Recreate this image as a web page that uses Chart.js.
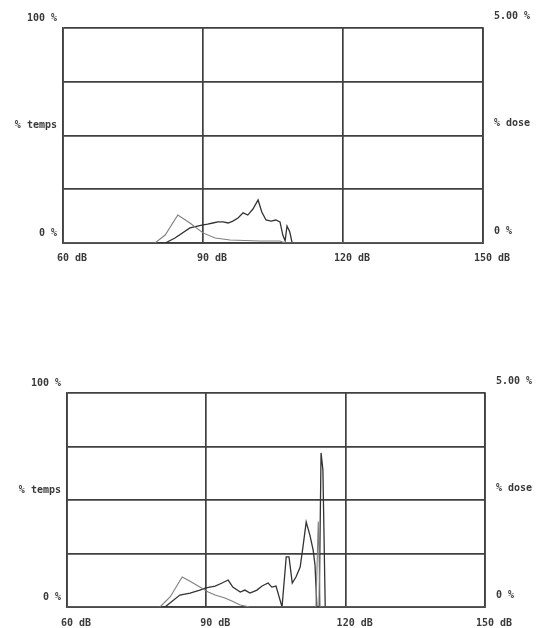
<!DOCTYPE html>
<html>
<head>
<meta charset="utf-8">
<script src="https://cdn.jsdelivr.net/npm/chart.js@4/dist/chart.umd.min.js"></script>
<style>
  html, body { margin: 0; padding: 0; background: #fff; }
  body { width: 548px; height: 628px; position: relative; overflow: hidden; }
  .wrap { position: absolute; left: 0; width: 548px; }
  #w1 { top: 0; height: 275px; }
  #w2 { top: 350px; height: 278px; }
</style>
</head>
<body>
<div class="wrap" id="w1"><canvas id="c1"></canvas></div>
<div class="wrap" id="w2"><canvas id="c2"></canvas></div>
<script>
// ---- Tick labels ----
const xTickLabels = { 60: '60 dB', 90: '90 dB', 120: '120 dB', 150: '150 dB' };
const leftTickLabels = { 0: '0 %', 50: '% temps', 100: '100 %' };
const rightTickLabels = { 0: '0 %', 50: '% dose', 100: '5.00 %' };

// ---- Chart 1 (top) ----
const top_darkDb  = [60, 81.9, 84, 87.2, 90, 91, 92.1, 93.2, 94.3, 95.4, 96.4, 97.5, 98.6, 99.6, 100.7, 101.8, 102.6, 103.5, 104.6, 105.6, 106.5, 107.1, 107.6, 108, 108.6, 109.1, 150];
const top_darkVal = [0, 0, 2.3, 7, 8.4, 8.8, 9.3, 9.8, 9.8, 9.3, 10.2, 11.6, 14, 13, 15.8, 20, 14.4, 10.7, 10.2, 10.7, 9.8, 3.7, 1, 7.9, 5.1, 0, 0];
const top_grayDb  = [60, 79.7, 81.9, 84.6, 87.2, 90, 92.6, 95.8, 102.2, 106.5, 107.6, 150];
const top_grayVal = [0, 0, 3.7, 13, 9.3, 4.7, 2.3, 1.4, 0.9, 0.9, 0, 0];

// ---- Chart 2 (bottom) ----
const bot_darkDb  = [60, 81.1, 84.3, 86.5, 88.6, 89.9, 91.9, 93.4, 94.7, 95.7, 97.3, 98.3, 99.4, 100.9, 102, 103.3, 104.1, 105, 106.3, 107.2, 107.8, 108.5, 109.3, 110.2, 110.8, 111.5, 112.3, 113, 113.4, 113.8, 114.3, 114.7, 115.1, 115.6, 150];
const bot_darkVal = [0, 0, 5.6, 6.5, 7.9, 8.9, 9.8, 11.2, 12.6, 9.3, 7, 7.9, 6.5, 7.9, 9.8, 11.2, 9.3, 9.8, 0, 23.4, 23.4, 11.2, 14, 18.7, 28, 39.7, 33.6, 26.6, 19.6, 0, 0, 72, 64, 0, 0];
const bot_grayDb  = [60, 80, 82.2, 84.8, 86.5, 88.6, 90.4, 91.9, 94, 95.5, 97.3, 99.4, 113.6, 114.1, 114.5, 150];
const bot_grayVal = [0, 0, 4.7, 14, 12, 9.3, 7, 5.6, 4.2, 2.8, 0.9, 0, 0, 40, 0, 0];

function pts(xs, ys) { return xs.map((x, i) => ({ x: x, y: ys[i] })); }

const FONT = { family: 'DejaVu Sans Mono', size: 10, weight: 'bold' };
const TXT = '#3a3a3a';
const GRID = '#404040';

function makeChart(id, cfg) {
  return new Chart(document.getElementById(id), {
    type: 'line',
    data: {
      datasets: [
        { data: pts(cfg.grayDb, cfg.grayVal), borderColor: '#7f7f7f', borderWidth: 1.1, pointRadius: 0, tension: 0, fill: false },
        { data: pts(cfg.darkDb, cfg.darkVal), borderColor: '#333333', borderWidth: 1.3, pointRadius: 0, tension: 0, fill: false }
      ]
    },
    options: {
      responsive: true,
      maintainAspectRatio: false,
      animation: false,
      devicePixelRatio: 1,
      layout: { padding: { top: cfg.padTop, bottom: 0, left: 0, right: 0 } },
      plugins: { legend: { display: false }, tooltip: { enabled: false } },
      scales: {
        x: {
          type: 'linear', min: 60, max: 150,
          afterBuildTicks: s => { s.ticks = [60, 90, 120, 150].map(v => ({ value: v })); },
          afterFit: s => { s.height = cfg.xH; },
          grid: { color: GRID, lineWidth: 1.7, drawTicks: false },
          border: { color: GRID, width: 1.7 },
          ticks: { callback: v => xTickLabels[v] || '', font: FONT, color: TXT, padding: cfg.xPad, labelOffset: 9, maxRotation: 0, autoSkip: false }
        },
        y: {
          position: 'left', min: 0, max: 100,
          afterBuildTicks: s => { s.ticks = [0, 25, 50, 75, 100].map(v => ({ value: v })); },
          afterFit: s => { s.width = cfg.leftW; },
          grid: { color: GRID, lineWidth: 1.7, drawTicks: false },
          border: { color: GRID, width: 1.7 },
          ticks: { callback: v => leftTickLabels[v] || '', font: FONT, color: TXT, padding: 6, labelOffset: -10, autoSkip: false }
        },
        y2: {
          position: 'right', min: 0, max: 100,
          afterBuildTicks: s => { s.ticks = [0, 50, 100].map(v => ({ value: v })); },
          afterFit: s => { s.width = cfg.rightW; },
          grid: { display: false, drawTicks: false },
          border: { color: GRID, width: 1.7 },
          ticks: { callback: v => rightTickLabels[v] || '', font: FONT, color: TXT, padding: 11, labelOffset: -12, autoSkip: false }
        }
      }
    }
  });
}

makeChart('c1', {
  darkDb: top_darkDb, darkVal: top_darkVal, grayDb: top_grayDb, grayVal: top_grayVal,
  padTop: 28, xH: 32, xPad: 9, leftW: 63, rightW: 65
});
makeChart('c2', {
  darkDb: bot_darkDb, darkVal: bot_darkVal, grayDb: bot_grayDb, grayVal: bot_grayVal,
  padTop: 43, xH: 21, xPad: 10, leftW: 67, rightW: 63
});
</script>
</body>
</html>
